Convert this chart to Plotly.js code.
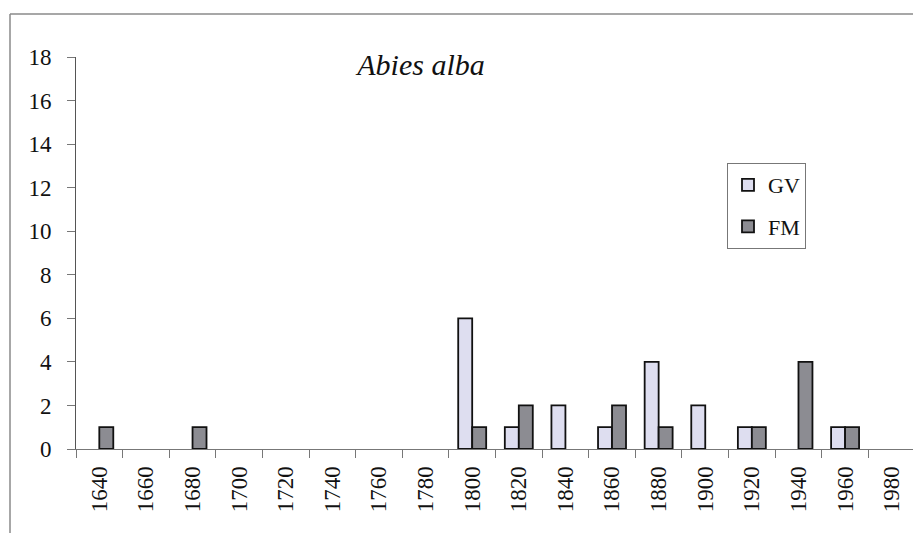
<!DOCTYPE html>
<html>
<head>
<meta charset="utf-8">
<script src="https://cdn.plot.ly/plotly-3.0.1.min.js"></script>
<style>
html,body{margin:0;padding:0;background:#fff;overflow:hidden;}
#chart{width:925px;height:533px;}
</style>
</head>
<body>
<div id="chart"></div>
<script>
const years = ["1640","1660","1680","1700","1720","1740","1760","1780","1800","1820","1840","1860","1880","1900","1920","1940","1960","1980"];
const gvValues = [null,null,null,null,null,null,null,null,6,1,2,1,4,2,1,null,1,null];
const fmValues = [1,null,1,null,null,null,null,null,1,2,null,2,1,null,1,4,1,null];
const yTicks = [0,2,4,6,8,10,12,14,16,18];

const serif = "Liberation Serif, serif";

const traces = [
  {type:"bar", name:"GV", x:years, y:gvValues, legendgroup:"a",
   marker:{color:"#dedef0", line:{color:"#111", width:1.8}}},
  {type:"bar", name:"FM", x:years, y:fmValues, legendgroup:"b",
   marker:{color:"#8c8c92", line:{color:"#111", width:1.8}}}
];

const X = px => (px - 76) / 839;
const Y = py => (449 - py) / 392;

const layout = {
  width:925, height:533,
  margin:{l:76, r:10, t:57, b:84},
  paper_bgcolor:"#fff", plot_bgcolor:"#fff",
  barmode:"group", bargap:0.4, bargroupgap:0,
  font:{family:serif, color:"#111", size:22},
  title:{text:"<i>Abies alba</i>", font:{family:serif, size:30, color:"#111"},
         x:X(421), xref:"paper", xanchor:"center", y:1-54/533, yref:"container", yanchor:"top"},
  xaxis:{type:"category", range:[-0.5,17.5], tickson:"boundaries", ticks:"outside", ticklen:8,
         tickcolor:"#777", tickwidth:1, showline:true, linecolor:"#777", linewidth:1,
         tickangle:-90, showgrid:false, zeroline:false, fixedrange:true, ticklabelstandoff:7,
         tickfont:{family:serif, size:23, color:"#111"}},
  yaxis:{range:[0,18], tickvals:yTicks, ticks:"outside", ticklen:8, tickcolor:"#777",
         showline:true, linecolor:"#555", linewidth:1, showgrid:false, zeroline:false,
         ticklabelstandoff:11,
         tickfont:{family:serif, size:23, color:"#111"}},
  legend:{x:X(727), y:Y(163), xanchor:"left", yanchor:"top", bordercolor:"#777", borderwidth:1,
          bgcolor:"#fff", font:{family:serif, size:22, color:"#111"}, traceorder:"grouped", tracegroupgap:10},
  shapes:[
    {type:"line", xref:"paper", yref:"paper", x0:X(10), x1:X(10), y0:Y(540), y1:Y(14), line:{color:"#8a8a8a", width:1.5}},
    {type:"line", xref:"paper", yref:"paper", x0:X(10), x1:X(960), y0:Y(14), y1:Y(14), line:{color:"#8a8a8a", width:1.5}}
  ]
};

Plotly.newPlot("chart", traces, layout, {displayModeBar:false, staticPlot:true});
</script>
</body>
</html>
